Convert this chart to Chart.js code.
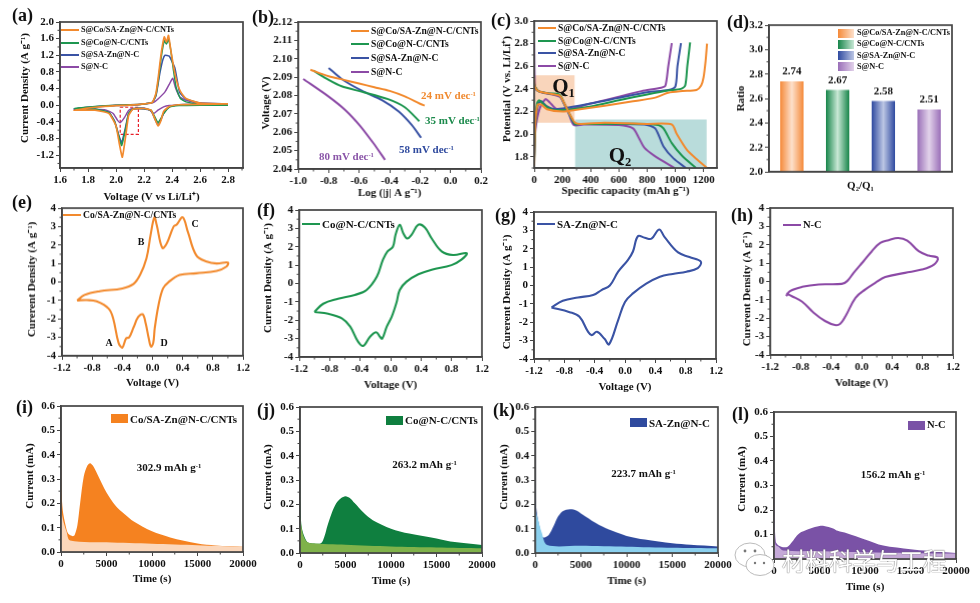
<!DOCTYPE html>
<html>
<head>
<meta charset="utf-8">
<script src="https://cdn.jsdelivr.net/npm/chart.js@4"></script>
<style>
  html, body { margin: 0; padding: 0; background: #fff; }
  #page { position: relative; width: 980px; height: 603px; overflow: hidden; filter: blur(0.35px); }
  #page canvas { position: absolute; }
  .txt { position: absolute; font-family: "Liberation Serif", serif; font-weight: bold; color: #111; white-space: nowrap; line-height: 1; }
  .txt sup { font-size: 0.6em; vertical-align: baseline; position: relative; top: -0.45em; }
  .txt sub { font-size: 0.6em; vertical-align: baseline; position: relative; top: 0.3em; }
  .mark { position: absolute; }
</style>
</head>
<body>
<div id="page"></div>
<script>
const ORANGE = '#f28a2e', GREEN = '#1e9650', BLUE = '#3a53a4', PURPLE = '#8c4aa6';
const seriesNames = ['S@Co/SA-Zn@N-C/CNTs', 'S@Co@N-C/CNTs', 'S@SA-Zn@N-C', 'S@N-C'];
const seriesColors = [ORANGE, GREEN, BLUE, PURPLE];

// (a) CV of the four cathodes: [voltage, current density]
const aOrange = [[2.8,0.03],[2.6,0.02],[2.45,0.01],[2.38,-0.03],[2.34,-0.15],[2.32,-0.38],[2.3,-0.5],[2.28,-0.35],[2.25,-0.12],[2.2,-0.08],[2.12,-0.1],[2.09,-0.25],[2.07,-0.72],[2.045,-1.25],[2.025,-0.95],[2.0,-0.5],[1.95,-0.2],[1.85,-0.12],[1.7,-0.12],[1.85,-0.05],[2.0,-0.01],[2.1,0.0],[2.2,0.03],[2.26,0.07],[2.285,0.28],[2.3,0.62],[2.31,0.9],[2.325,1.3],[2.345,1.64],[2.36,1.52],[2.375,1.68],[2.39,1.35],[2.41,0.95],[2.43,0.62],[2.46,0.33],[2.5,0.16],[2.6,0.05],[2.8,0.03]];
const aGreen = [[2.8,0.0],[2.6,0.0],[2.45,-0.01],[2.38,-0.05],[2.34,-0.2],[2.32,-0.32],[2.3,-0.42],[2.28,-0.3],[2.25,-0.12],[2.2,-0.08],[2.12,-0.09],[2.09,-0.2],[2.07,-0.55],[2.04,-0.97],[2.02,-0.75],[1.99,-0.4],[1.95,-0.18],[1.85,-0.09],[1.7,-0.08],[1.85,-0.03],[2.0,0.0],[2.1,0.01],[2.2,0.03],[2.26,0.07],[2.285,0.25],[2.3,0.55],[2.31,0.8],[2.325,1.2],[2.345,1.55],[2.36,1.47],[2.375,1.58],[2.39,1.35],[2.41,0.85],[2.43,0.42],[2.46,0.16],[2.5,0.08],[2.6,0.02],[2.8,0.0]];
const aBlue = [[2.8,0.03],[2.6,0.03],[2.45,0.01],[2.38,-0.04],[2.34,-0.2],[2.32,-0.36],[2.3,-0.48],[2.28,-0.35],[2.25,-0.13],[2.2,-0.09],[2.12,-0.1],[2.09,-0.2],[2.07,-0.5],[2.04,-0.9],[2.02,-0.72],[1.99,-0.38],[1.95,-0.18],[1.85,-0.1],[1.7,-0.09],[1.85,-0.04],[2.0,-0.01],[2.1,0.0],[2.2,0.03],[2.26,0.07],[2.285,0.22],[2.3,0.5],[2.315,0.8],[2.335,1.1],[2.35,1.2],[2.38,1.18],[2.4,1.05],[2.42,0.9],[2.44,0.55],[2.455,0.3],[2.5,0.15],[2.6,0.05],[2.8,0.03]];
const aPurple = [[2.8,0.02],[2.6,0.02],[2.45,0.0],[2.38,-0.01],[2.34,-0.04],[2.3,-0.12],[2.27,-0.2],[2.24,-0.12],[2.2,-0.07],[2.12,-0.08],[2.09,-0.13],[2.06,-0.3],[2.03,-0.42],[2.01,-0.36],[1.98,-0.2],[1.93,-0.12],[1.85,-0.1],[1.7,-0.1],[1.85,-0.04],[2.0,0.0],[2.1,0.01],[2.2,0.03],[2.27,0.07],[2.3,0.15],[2.35,0.32],[2.38,0.5],[2.405,0.65],[2.425,0.42],[2.455,0.2],[2.5,0.12],[2.6,0.05],[2.8,0.03]];
const aDashedBox = [[2.03,-0.05],[2.16,-0.05],[2.16,-0.7],[2.03,-0.7],[2.03,-0.05]];
const aVoltageTicks = [1.6,1.8,2.0,2.2,2.4,2.6,2.8];
const aCurrentTicks = [-1.2,-0.8,-0.4,0.0,0.4,0.8,1.2,1.6,2.0];

// (b) Tafel: [log j, voltage]
const bOrange = [[-0.92,2.094],[-0.8,2.0905],[-0.7,2.0885],[-0.6,2.0865],[-0.5,2.0845],[-0.4,2.0825],[-0.3,2.0795],[-0.2,2.0755],[-0.17,2.0745]];
const bGreen = [[-0.9,2.0935],[-0.8,2.0885],[-0.715,2.085],[-0.58,2.082],[-0.41,2.078],[-0.3,2.0736],[-0.205,2.066]];
const bBlue = [[-0.8,2.095],[-0.715,2.089],[-0.58,2.0825],[-0.45,2.0775],[-0.34,2.0713],[-0.255,2.064],[-0.193,2.057]];
const bPurple = [[-0.967,2.089],[-0.8,2.0794],[-0.69,2.072],[-0.594,2.0635],[-0.506,2.054],[-0.43,2.045]];
const bLogTicks = [-1.0,-0.8,-0.6,-0.4,-0.2,0.0,0.2];
const bVoltageTicks = [2.04,2.05,2.06,2.07,2.08,2.09,2.10,2.11,2.12];

// (c) charge and discharge: [capacity, potential]
const cOrangeDis = [[0,2.5],[5,2.42],[30,2.38],[100,2.36],[180,2.34],[210,2.28],[250,2.18],[290,2.10],[330,2.09],[500,2.10],[800,2.09],[975,2.085],[1010,2.0],[1082,1.86],[1150,1.78],[1225,1.70]];
const cOrangeChg = [[0,1.72],[8,2.1],[25,2.26],[50,2.26],[90,2.22],[200,2.2],[300,2.215],[500,2.25],[700,2.29],[850,2.32],[950,2.365],[1050,2.38],[1150,2.39],[1183,2.43],[1200,2.5],[1215,2.65],[1225,2.8]];
const cGreenDis = [[0,2.45],[5,2.42],[30,2.38],[100,2.36],[180,2.35],[210,2.28],[250,2.18],[290,2.09],[330,2.09],[500,2.09],[800,2.09],[880,2.08],[916,2.05],[975,1.92],[1046,1.81],[1146,1.70]];
const cGreenChg = [[0,1.75],[8,2.1],[20,2.27],[35,2.3],[60,2.27],[100,2.23],[170,2.21],[400,2.245],[600,2.3],[800,2.35],[950,2.385],[1040,2.4],[1070,2.43],[1085,2.6],[1105,2.81]];
const cBlueDis = [[0,2.45],[5,2.42],[30,2.38],[100,2.36],[180,2.34],[210,2.27],[250,2.17],[285,2.09],[330,2.09],[500,2.09],[780,2.085],[857,2.05],[916,1.89],[987,1.785],[1075,1.70]];
const cBlueChg = [[0,1.78],[10,2.1],[30,2.27],[50,2.29],[85,2.25],[150,2.22],[400,2.27],[600,2.32],[800,2.37],[950,2.39],[1000,2.42],[1015,2.6],[1040,2.805]];
const cPurpleDis = [[0,2.8],[3,2.5],[10,2.4],[50,2.37],[180,2.33],[240,2.2],[280,2.08],[350,2.085],[600,2.08],[700,2.05],[740,1.97],[780,1.88],[850,1.81],[995,1.70]];
const cPurpleChg = [[0,1.8],[10,2.05],[40,2.23],[80,2.31],[110,2.28],[160,2.22],[250,2.22],[400,2.27],[600,2.33],[760,2.38],[900,2.41],[930,2.43],[950,2.6],[975,2.805]];
const cRegionQ1 = [[0,2.52],[288,2.52]];
const cRegionQ2 = [[288,2.13],[1223,2.13]];
const cCapacityTicks = [0,200,400,600,800,1000,1200];
const cPotentialTicks = [1.8,2.0,2.2,2.4,2.6,2.8,3.0];

// (d) Q2/Q1 ratio
const dRatio = [2.74,2.67,2.58,2.51];
const dEdge = ['#f58a3a','#17854a','#2f4aa0','#9a6fb8'];
const dCentre = ['#fde0cb','#c8e8d5','#bcc6e4','#e2d2ea'];
const dTicks = [2.0,2.2,2.4,2.6,2.8,3.0,3.2];

// (e-h) CV of the symmetric cells: [voltage, current density]
const eCv = [[-1,-1],[-0.9,-0.7],[-0.7,-0.5],[-0.4,-0.35],[-0.25,-0.1],[-0.165,0.38],[-0.08,1.28],[-0.025,2.55],[0.025,3.5],[0.055,3.1],[0.13,1.85],[0.19,2.1],[0.28,3.0],[0.32,3.1],[0.4,3.5],[0.47,2.7],[0.58,1.45],[0.72,1.1],[0.85,1.0],[1.0,1.05],[0.98,0.83],[0.85,0.6],[0.58,0.47],[0.36,0.38],[0.21,-0.02],[0.14,-0.35],[0.08,-1.25],[0.03,-2.5],[0.01,-3.3],[-0.02,-3.5],[-0.05,-3.05],[-0.09,-2.25],[-0.13,-1.75],[-0.19,-1.9],[-0.25,-2.45],[-0.31,-3.0],[-0.35,-3.05],[-0.4,-3.55],[-0.45,-3.3],[-0.52,-2.0],[-0.58,-1.45],[-0.74,-1.05],[-0.87,-0.98],[-1,-1]];
const fCv = [[-1,-1.55],[-0.885,-1.1],[-0.69,-0.83],[-0.47,-0.62],[-0.315,-0.35],[-0.18,0.38],[-0.1,1.3],[-0.04,1.75],[0.03,2.0],[0.065,2.65],[0.12,3.2],[0.165,2.75],[0.22,2.45],[0.275,2.65],[0.365,3.2],[0.45,3.05],[0.54,2.45],[0.67,1.75],[0.82,1.55],[1.0,1.65],[0.93,1.3],[0.8,1.0],[0.54,0.75],[0.365,0.5],[0.21,0.1],[0.12,-0.35],[0.08,-1],[0.015,-1.8],[-0.05,-2.35],[-0.11,-3.0],[-0.14,-2.9],[-0.19,-2.65],[-0.27,-2.9],[-0.36,-3.4],[-0.43,-3.15],[-0.53,-2.35],[-0.64,-1.9],[-0.82,-1.65],[-1,-1.55]];
const gCv = [[-0.97,-1.2],[-0.82,-0.83],[-0.62,-0.65],[-0.42,-0.52],[-0.31,-0.25],[-0.2,0.0],[-0.09,0.75],[0.04,1.4],[0.105,1.85],[0.17,2.68],[0.26,2.6],[0.35,2.55],[0.45,3.05],[0.52,2.65],[0.7,1.8],[0.85,1.55],[1.0,1.3],[0.96,0.95],[0.81,0.75],[0.63,0.63],[0.46,0.48],[0.28,0.1],[0.105,-0.43],[0.0,-0.9],[-0.09,-1.88],[-0.21,-3.2],[-0.27,-2.9],[-0.37,-2.52],[-0.44,-2.7],[-0.49,-2.5],[-0.6,-1.7],[-0.73,-1.45],[-0.97,-1.2]];
const hCv = [[-0.99,-0.8],[-0.94,-0.52],[-0.78,-0.29],[-0.565,-0.16],[-0.26,-0.13],[-0.19,0.02],[-0.105,0.47],[0.025,1.1],[0.135,1.65],[0.245,2.1],[0.355,2.25],[0.48,2.37],[0.6,2.23],[0.75,1.65],[0.88,1.41],[1.0,1.28],[0.95,0.92],[0.79,0.65],[0.57,0.47],[0.31,0.24],[0.18,-0.07],[0.05,-0.43],[-0.08,-0.89],[-0.21,-1.88],[-0.28,-2.3],[-0.35,-2.37],[-0.48,-2.15],[-0.63,-1.7],[-0.78,-1.1],[-0.915,-0.8],[-0.99,-0.65]];
const cvVoltageTicks = [-1.2,-0.8,-0.4,0.0,0.4,0.8,1.2];
const cvCurrentTicks = [-4,-3,-2,-1,0,1,2,3,4];

// (i-l) potentiostatic deposition: [time, current], outer curve and pale base
const iTotal = [[0,0.6],[30,0.33],[60,0.25],[200,0.17],[500,0.11],[800,0.075],[1300,0.065],[1500,0.07],[1800,0.11],[2100,0.2],[2500,0.31],[2900,0.355],[3200,0.365],[3500,0.355],[4000,0.32],[5000,0.245],[6000,0.19],[7000,0.155],[8000,0.125],[10000,0.085],[12000,0.06],[15000,0.035],[17000,0.027],[20000,0.022]];
const iBase = [[0,0.175],[300,0.12],[600,0.085],[1000,0.047],[5000,0.04],[10000,0.034],[15000,0.028],[20000,0.021]];
const jTotal = [[0,0.6],[20,0.4],[50,0.2],[150,0.115],[400,0.075],[800,0.045],[1200,0.04],[2300,0.04],[2700,0.07],[3000,0.11],[3500,0.165],[4000,0.205],[4500,0.225],[5000,0.233],[5500,0.225],[6000,0.205],[7000,0.165],[8000,0.135],[10000,0.1],[12000,0.08],[15000,0.06],[17000,0.045],[20000,0.033]];
const jBase = [[0,0.15],[300,0.08],[700,0.048],[1200,0.04],[5000,0.034],[10000,0.027],[15000,0.023],[20000,0.02]];
const kTotal = [[0,0.6],[30,0.3],[100,0.19],[400,0.12],[800,0.065],[1100,0.065],[1500,0.075],[2000,0.11],[2500,0.15],[3000,0.172],[3800,0.18],[4500,0.175],[5500,0.15],[7000,0.115],[8500,0.09],[10000,0.07],[12000,0.055],[15000,0.04],[17000,0.034],[20000,0.027]];
const kBase = [[0,0.18],[300,0.14],[700,0.085],[1300,0.033],[5000,0.03],[10000,0.026],[15000,0.022],[20000,0.02]];
const lTotal = [[0,0.35],[50,0.2],[200,0.07],[500,0.055],[1000,0.048],[1500,0.05],[2000,0.07],[2500,0.095],[3000,0.11],[4000,0.125],[5000,0.135],[5500,0.135],[6500,0.125],[7000,0.115],[8000,0.105],[10000,0.08],[12000,0.055],[15000,0.04],[17000,0.033],[20000,0.025]];
const lBase = [[0,0.3],[150,0.06],[500,0.05],[1000,0.035],[5000,0.032],[10000,0.028],[20000,0.022]];
const timeTicks = [0,5000,10000,15000,20000];
const currentTicks = [0.0,0.1,0.2,0.3,0.4,0.5,0.6];

const page = document.getElementById('page');
const MARGIN_L = 60, MARGIN_T = 20, MARGIN_R = 25, MARGIN_B = 45;
const FRAME = '#444', INK = '#111';
const serif = size => ({ family: '"Liberation Serif", serif', weight: 'bold', size });

// frame on all four sides and the small ticks between the labelled ones
const framePlugin = {
  id: 'frame',
  afterDraw(chart) {
    const { ctx, chartArea: a, scales } = chart;
    ctx.save();
    ctx.strokeStyle = FRAME;
    ctx.lineWidth = 1.7;
    ctx.strokeRect(a.left, a.top, a.right - a.left, a.bottom - a.top);
    ctx.lineWidth = 1;
    Object.values(scales).forEach(s => {
      if (s.type !== 'linear') return;
      const step = s.ticks[1].value - s.ticks[0].value;
      const first = s.ticks[0].value - step / 2;
      for (let v = first; v <= s.max + 1e-9; v += step) {
        if (v < s.min - 1e-9) continue;
        const p = s.getPixelForValue(v);
        ctx.beginPath();
        if (s.axis === 'x') { ctx.moveTo(p, a.bottom); ctx.lineTo(p, a.bottom + 2.5); }
        else { ctx.moveTo(a.left, p); ctx.lineTo(a.left - 2.5, p); }
        ctx.stroke();
      }
    });
    ctx.restore();
  }
};

function axis(cfg, side, size) {
  return {
    type: 'linear',
    min: cfg.min,
    max: cfg.max,
    afterBuildTicks: s => { s.ticks = cfg.ticks.map(value => ({ value })); },
    afterFit: s => { if (side === 'x') s.height = size; else s.width = size; },
    grid: { drawOnChartArea: false, tickLength: 4, tickColor: FRAME, tickWidth: 1 },
    border: { color: FRAME, width: 1.5 },
    ticks: {
      color: INK, font: serif(11), padding: 2, autoSkip: false, maxRotation: 0,
      callback: v => v.toFixed(cfg.dec)
    },
    title: { display: true, text: cfg.title, color: INK, font: serif(11) }
  };
}

// the y titles do not sit at the middle of their axes in the figure
function shiftTitle(scale, mid) {
  const draw = scale.drawTitle;
  scale.drawTitle = function () {
    const { top, bottom } = this;
    const d = mid - (top + bottom) / 2 - this.chart.canvas.offsetTop;
    this.top += d; this.bottom += d;
    draw.call(this);
    this.top = top; this.bottom = bottom;
  };
}

function panel(box, xCfg, yCfg, datasets, extra) {
  const [l, t, r, b] = box;
  const cv = document.createElement('canvas');
  const w = r - l + MARGIN_L + MARGIN_R, h = b - t + MARGIN_T + MARGIN_B;
  cv.width = w; cv.height = h;
  cv.style.left = (l - MARGIN_L) + 'px';
  cv.style.top = (t - MARGIN_T) + 'px';
  cv.style.width = w + 'px';
  cv.style.height = h + 'px';
  page.appendChild(cv);
  const x = xCfg.scale || axis(xCfg, 'x', MARGIN_B);
  const y = axis(yCfg, 'y', MARGIN_L);
  const lh = 11 * 1.2;
  y.title.padding = { top: yCfg.titleAt - (l - MARGIN_L) - lh / 2, bottom: 0 };
  x.title.padding = { top: 0, bottom: (b + MARGIN_B) - xCfg.titleAt - lh / 2 };
  if (yCfg.titleMid) y.afterUpdate = s => { if (!s.shifted) { s.shifted = true; shiftTitle(s, yCfg.titleMid); } };
  return new Chart(cv, {
    type: (extra && extra.type) || 'scatter',
    data: { labels: extra && extra.labels, datasets },
    plugins: [framePlugin].concat((extra && extra.plugins) || []),
    options: {
      responsive: false,
      animation: false,
      layout: { autoPadding: false, padding: { top: MARGIN_T, right: MARGIN_R, left: 0, bottom: 0 } },
      plugins: { legend: { display: false }, tooltip: { enabled: false } },
      scales: { x, y }
    }
  });
}

const line = (data, color, width, tension) => ({
  data, showLine: true, borderColor: color, borderWidth: width || 2,
  pointRadius: 0, tension: tension === undefined ? 0.25 : tension, fill: false
});
const area = (data, color, order) => ({
  data, showLine: true, borderWidth: 0, borderColor: color, backgroundColor: color,
  pointRadius: 0, tension: 0.3, fill: 'origin', order
});
const band = (data, color, floor) => ({
  data, showLine: true, borderWidth: 0, backgroundColor: color, pointRadius: 0,
  fill: { value: floor }, order: 10
});

// labels and keys that sit on top of the plots
function text(x, y, html, size, color, centred) {
  const d = document.createElement('div');
  d.className = 'txt';
  d.innerHTML = html;
  d.style.left = x + 'px';
  d.style.top = y + 'px';
  d.style.fontSize = size + 'px';
  if (color) d.style.color = color;
  d.style.transform = centred ? 'translate(-50%,-50%)' : 'translateY(-50%)';
  page.appendChild(d);
  return d;
}
function mark(x, y, w, h, background) {
  const d = document.createElement('div');
  d.className = 'mark';
  d.style.cssText = `left:${x}px;top:${y - h / 2}px;width:${w}px;height:${h}px;background:${background}`;
  page.appendChild(d);
}
function lineKey(x, rows, names, colors, size) {
  names.forEach((name, i) => {
    mark(x, rows[i], 18, 2, colors[i]);
    text(x + 20, rows[i], name, size);
  });
}

// (a)
panel([60, 22, 243, 168],
  { min: 1.6, max: 2.907, ticks: aVoltageTicks, dec: 1, title: 'Voltage (V vs Li/Li⁺)', titleAt: 197 },
  { min: -1.51, max: 2.0, ticks: aCurrentTicks, dec: 1, title: 'Current Density (A g⁻¹)', titleAt: 25, titleMid: 88 },
  [line(aOrange, ORANGE, 1.7, 0.15), line(aGreen, GREEN, 1.5, 0.15), line(aBlue, BLUE, 1.5, 0.15), line(aPurple, PURPLE, 1.5, 0.15),
   Object.assign(line(aDashedBox, '#e8202a', 1.2, 0), { borderDash: [3, 2] })]);
lineKey(61, [30, 42.7, 55, 66.7], seriesNames, seriesColors, 8.3);

// (b)
panel([298.3, 22, 480.7, 169.3],
  { min: -1.0, max: 0.2, ticks: bLogTicks, dec: 1, title: 'Log (|j| A g⁻¹)', titleAt: 193 },
  { min: 2.04, max: 2.12, ticks: bVoltageTicks, dec: 2, title: 'Voltage (V)', titleAt: 266, titleMid: 103 },
  [line(bOrange, ORANGE), line(bGreen, GREEN), line(bBlue, BLUE), line(bPurple, PURPLE)]);
lineKey(351, [30.7, 44.3, 58.3, 72.3], seriesNames, seriesColors, 9.6);
text(448.5, 95, '24 mV dec<sup>-1</sup>', 11, '#f08a30', true);
text(452.5, 120, '35 mV dec<sup>-1</sup>', 11, '#1c8a4c', true);
text(426.5, 149, '58 mV dec<sup>-1</sup>', 11, '#2f4a9e', true);
text(346.5, 156, '80 mV dec<sup>-1</sup>', 11, '#8a55a8', true);

// (c)
panel([534.3, 20.7, 716.7, 167.7],
  { min: 0, max: 1295, ticks: cCapacityTicks, dec: 0, title: 'Specific capacity (mAh g⁻¹)', titleAt: 191 },
  { min: 1.7, max: 3.0, ticks: cPotentialTicks, dec: 1, title: 'Potential (V vs. Li/Li⁺)', titleAt: 507, titleMid: 89 },
  [line(cOrangeDis, ORANGE), line(cOrangeChg, ORANGE), line(cGreenDis, GREEN), line(cGreenChg, GREEN),
   line(cBlueDis, BLUE), line(cBlueChg, BLUE), line(cPurpleDis, PURPLE), line(cPurpleChg, PURPLE),
   band(cRegionQ1, '#f9d5bb', 2.10), band(cRegionQ2, '#b9dcdb', 1.7)]);
lineKey(538, [28.3, 40.7, 53.3, 66], seriesNames, seriesColors, 9.6);
text(563.5, 86, 'Q<sub>1</sub>', 21, '#111', true);
text(620, 155, 'Q<sub>2</sub>', 21, '#111', true);

// (d)
const barGradient = c => {
  const { chart, dataIndex } = c;
  if (!chart.chartArea) return dEdge[dataIndex];
  const cx = chart.scales.x.getPixelForValue(dataIndex);
  const hw = chart.scales.x.getPixelForValue(1) - chart.scales.x.getPixelForValue(0);
  const half = hw * 0.255;
  const g = chart.ctx.createLinearGradient(cx - half, 0, cx + half, 0);
  g.addColorStop(0, dEdge[dataIndex]);
  g.addColorStop(0.5, dCentre[dataIndex]);
  g.addColorStop(1, dEdge[dataIndex]);
  return g;
};
const barValues = {
  id: 'barValues',
  afterDatasetsDraw(chart) {
    const { ctx } = chart;
    ctx.save();
    ctx.fillStyle = INK;
    ctx.font = 'bold 11px "Liberation Serif", serif';
    ctx.textAlign = 'center';
    ctx.textBaseline = 'middle';
    chart.getDatasetMeta(0).data.forEach((bar, i) => {
      ctx.fillText(dRatio[i].toFixed(2), bar.x, bar.y - 9.5);
    });
    ctx.restore();
  }
};
panel([769.3, 25, 952.3, 171.7],
  { titleAt: 186, scale: {
      type: 'category', offset: true,
      afterFit: s => { s.height = MARGIN_B; },
      grid: { display: false, drawTicks: false },
      border: { color: FRAME, width: 1.5 },
      ticks: { display: false },
      title: { display: true, text: 'Q₂/Q₁', color: INK, font: serif(11) }
    } },
  { min: 2.0, max: 3.2, ticks: dTicks, dec: 1, title: 'Ratio', titleAt: 741 },
  [{ data: dRatio, backgroundColor: barGradient, barPercentage: 0.51, categoryPercentage: 1 }],
  { type: 'bar', labels: seriesNames, plugins: [barValues] });
seriesNames.forEach((name, i) => {
  const y = [33.3, 44.3, 55.7, 66.7][i];
  mark(838, y, 16, 9, `linear-gradient(90deg, ${dEdge[i]}, ${dCentre[i]})`);
  text(857, y, name, 8.3);
});

// (e)-(h)
const cvX = at => ({ min: -1.2, max: 1.2, ticks: cvVoltageTicks, dec: 1, title: 'Voltage (V)', titleAt: at });
const cvY = (title, at, mid) => ({ min: -4, max: 4, ticks: cvCurrentTicks, dec: 0, title, titleAt: at, titleMid: mid });
panel([61.7, 208.3, 243.3, 355.7], cvX(383), cvY('Curerent Density (A g⁻¹)', 32, 279), [line(eCv, ORANGE, 2.1, 0.38)]);
panel([299.3, 210, 482, 357.3], cvX(385), cvY('Current Density (A g⁻¹)', 268, 278), [line(fCv, GREEN, 2.1, 0.38)]);
panel([534.3, 211.7, 716.3, 359], cvX(387), cvY('Curerent Density (A g⁻¹)', 507, 292), [line(gCv, BLUE, 2.1, 0.38)]);
panel([770, 208.3, 952.7, 355.3], cvX(383), cvY('Curerent Density (A g⁻¹)', 747, 289), [line(hCv, PURPLE, 2.1, 0.38)]);
lineKey(63, [215], ['Co/SA-Zn@N-C/CNTs'], [ORANGE], 9.6);
lineKey(302, [224], ['Co@N-C/CNTs'], [GREEN], 11);
lineKey(537, [224], ['SA-Zn@N-C'], [BLUE], 11);
lineKey(783, [225], ['N-C'], [PURPLE], 10.5);
text(141, 242, 'B', 10, null, true);
text(195, 224, 'C', 10, null, true);
text(109, 343, 'A', 10, null, true);
text(164, 343, 'D', 10, null, true);

// (i)-(l)
const timeX = at => ({ min: 0, max: 20000, ticks: timeTicks, dec: 0, title: 'Time (s)', titleAt: at });
const curY = (at, mid) => ({ min: 0, max: 0.6, ticks: currentTicks, dec: 1, title: 'Current (mA)', titleAt: at, titleMid: mid });
panel([61, 405.7, 243.3, 551.7], timeX(579), curY(30, 476), [area(iBase, '#fbd7bb', 1), area(iTotal, '#f58220', 2)]);
panel([300, 406.7, 482.3, 553.3], timeX(581), curY(268, 477), [area(jBase, '#7fb24a', 1), area(jTotal, '#0f7f3f', 2)]);
panel([535.3, 406.7, 717.7, 553.3], timeX(581), curY(504, 477), [area(kBase, '#8bd0ee', 1), area(kTotal, '#2f4a9e', 2)]);
panel([774, 411.7, 956, 559], timeX(587), curY(742, 479), [area(lBase, '#c5a9d8', 1), area(lTotal, '#7a52a6', 2)]);
const boxKey = (x, y, color, name, size) => {
  mark(x, y, 17, 9, color);
  text(x + 19, y, name, size);
};
boxKey(111, 418.5, '#f58220', 'Co/SA-Zn@N-C/CNTs', 11);
boxKey(386, 420, '#0f7f3f', 'Co@N-C/CNTs', 11);
boxKey(630, 422.5, '#2f4a9e', 'SA-Zn@N-C', 11);
boxKey(908, 425, '#7a52a6', 'N-C', 10.5);
text(169, 467, '302.9 mAh g<sup>-1</sup>', 11, null, true);
text(424.5, 464, '263.2 mAh g<sup>-1</sup>', 11, null, true);
text(643.5, 473, '223.7 mAh g<sup>-1</sup>', 11, null, true);
text(893, 474, '156.2 mAh g<sup>-1</sup>', 11, null, true);

// panel letters
const letters = [['(a)',12,15],['(b)',252,17],['(c)',491,20],['(d)',727,22],['(e)',12,202],['(f)',257,210],['(g)',495,215],['(h)',731,215],['(i)',16,407],['(j)',257,410],['(k)',493,410],['(l)',732,414]];
letters.forEach(([s, x, y]) => text(x, y, s, 18, '#111'));

// watermark
const wm = text(782, 561, '材料科学与工程', 23.5, '#fff');
wm.style.fontFamily = '"Noto Sans CJK SC", sans-serif';
wm.style.fontWeight = '400';
wm.style.textShadow = '0 0 1px #666, 0 0 1px #666';
const icon = document.createElementNS('http://www.w3.org/2000/svg', 'svg');
icon.setAttribute('width', '42');
icon.setAttribute('height', '36');
icon.style.cssText = 'position:absolute;left:733px;top:541px';
icon.innerHTML = '<ellipse cx="17" cy="14" rx="15" ry="12" fill="#fff" stroke="#bbb"/><ellipse cx="27" cy="24" rx="14" ry="10.5" fill="#fff" stroke="#bbb"/><circle cx="12" cy="10" r="1.4" fill="#777"/><circle cx="22" cy="10" r="1.4" fill="#777"/><circle cx="22" cy="22" r="1.2" fill="#777"/><circle cx="31" cy="22" r="1.2" fill="#777"/>';
page.appendChild(icon);
</script>
</body>
</html>
